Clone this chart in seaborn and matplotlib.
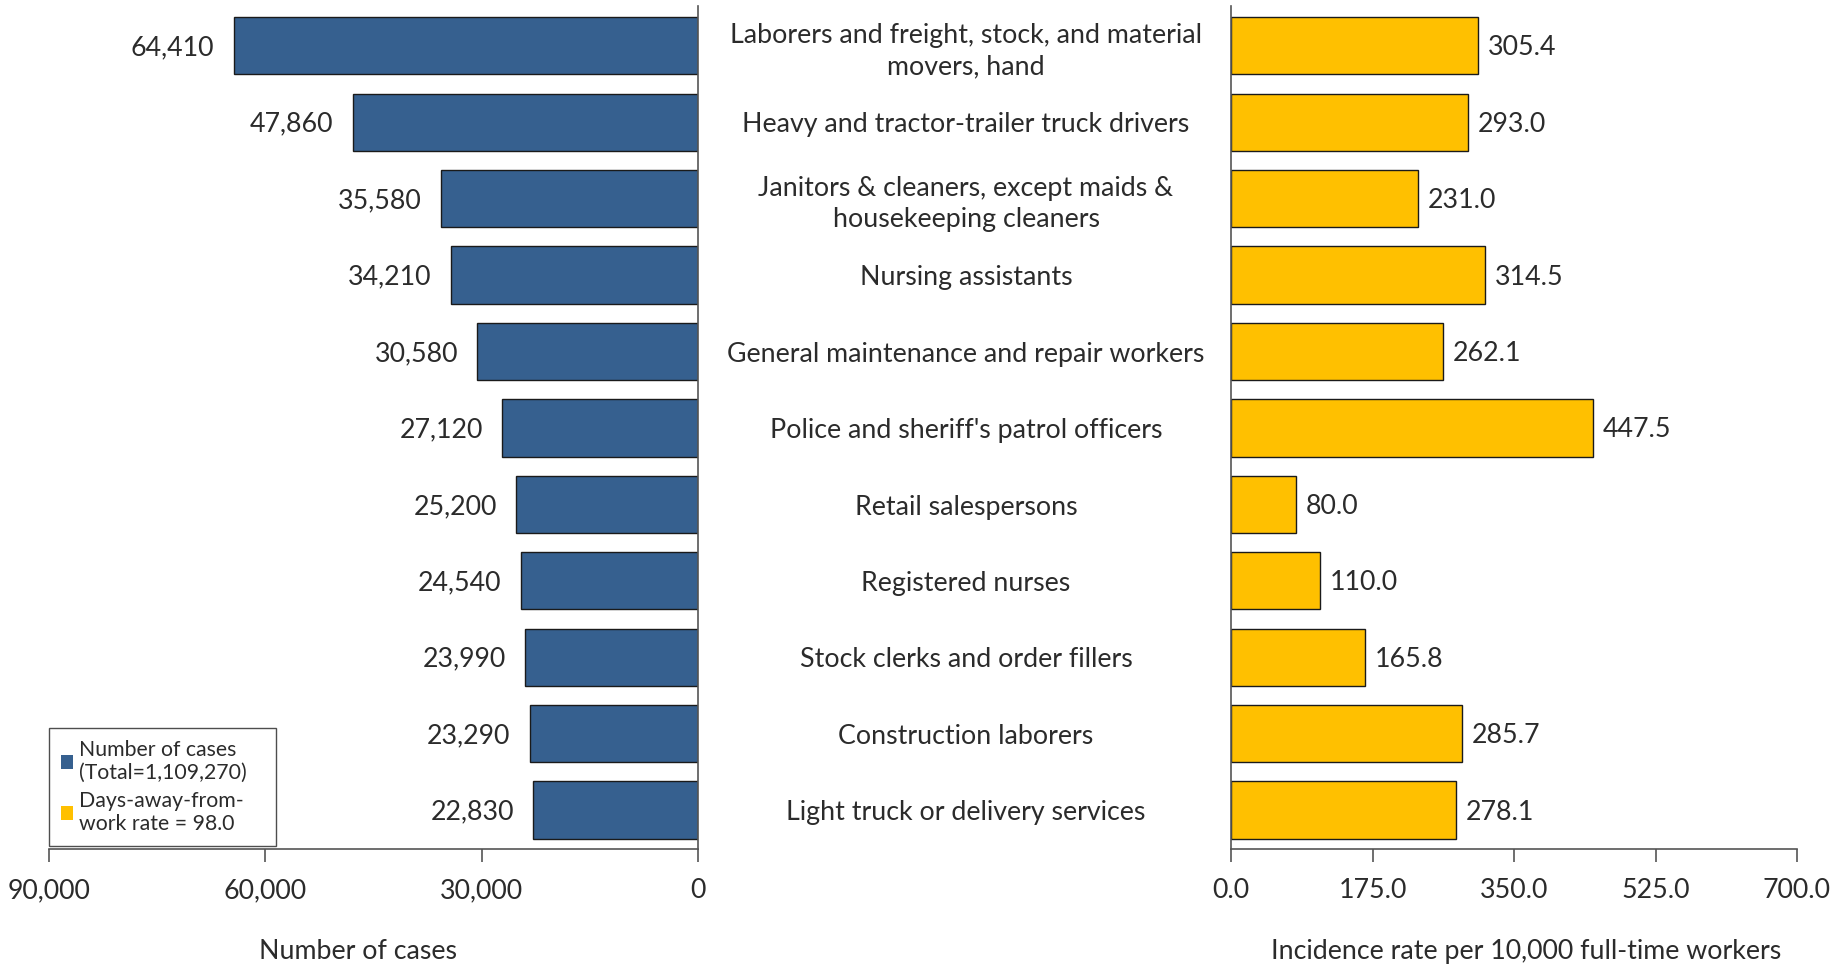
import matplotlib
matplotlib.use("Agg")
import matplotlib.pyplot as plt
import matplotlib.transforms as mtransforms
from matplotlib.patches import Patch
import seaborn as sns
import pandas as pd

occupations = [
    "Laborers and freight, stock, and material\nmovers, hand",
    "Heavy and tractor-trailer truck drivers",
    "Janitors & cleaners, except maids &\nhousekeeping cleaners",
    "Nursing assistants",
    "General maintenance and repair workers",
    "Police and sheriff's patrol officers",
    "Retail salespersons",
    "Registered nurses",
    "Stock clerks and order fillers",
    "Construction laborers",
    "Light truck or delivery services",
]
cases = [64410, 47860, 35580, 34210, 30580, 27120, 25200, 24540, 23990, 23290, 22830]
rates = [305.4, 293.0, 231.0, 314.5, 262.1, 447.5, 80.0, 110.0, 165.8, 285.7, 278.1]
case_ticks = [90000, 60000, 30000, 0]
rate_ticks = [0.0, 175.0, 350.0, 525.0, 700.0]
legend_labels = ["Number of cases\n(Total=1,109,270)", "Days-away-from-\nwork rate = 98.0"]
xlabel_left = "Number of cases"
xlabel_right = "Incidence rate per 10,000 full-time workers"

BLUE = "#36608F"
GOLD = "#FFC000"
TXT = "#2b2b2b"
FS = 19.3

sns.set_theme(style="white")
plt.rcParams["font.family"] = ["Lato", "DejaVu Sans"]

df = pd.DataFrame({"occ": occupations, "cases": cases, "rate": rates})

W, H = 1843, 965
fig = plt.figure(figsize=(W / 100, H / 100), dpi=100)

def fr(x0, y0, x1, y1):
    return [x0 / W, 1 - y1 / H, (x1 - x0) / W, (y1 - y0) / H]

axL = fig.add_axes(fr(49, 6, 698, 849))
axR = fig.add_axes(fr(1231, 6, 1797, 849))

sns.barplot(data=df, x="cases", y="occ", ax=axL, color=BLUE, orient="h",
            width=0.75, edgecolor="#1a1a1a", linewidth=1.0, saturation=1)
sns.barplot(data=df, x="rate", y="occ", ax=axR, color=GOLD, orient="h",
            width=0.75, edgecolor="#1a1a1a", linewidth=1.0, saturation=1)

n = len(occupations)
for ax in (axL, axR):
    ax.set_ylim(n - 0.49, -0.52)
    ax.set_ylabel("")
    ax.set_yticks([])
    ax.tick_params(axis="x", bottom=True, length=9, width=1.2, color="#555555",
                   labelsize=FS, labelcolor=TXT, pad=12, direction="out")
    for s in ax.spines.values():
        s.set_color("#555555")
        s.set_linewidth(1.2)

axL.set_xlim(90000, 0)
axL.set_xticks(case_ticks)
axL.set_xticklabels([f"{v:,}" for v in case_ticks])
axL.spines["left"].set_visible(False)
axL.spines["top"].set_visible(False)
axL.set_xlabel(xlabel_left, fontsize=FS, color=TXT, labelpad=26)
axL.xaxis.label.set_x(0.476)

axR.set_xlim(0, 700)
axR.set_xticks(rate_ticks)
axR.set_xticklabels([f"{v:.1f}" for v in rate_ticks])
axR.spines["right"].set_visible(False)
axR.spines["top"].set_visible(False)
axR.set_xlabel(xlabel_right, fontsize=FS, color=TXT, labelpad=26)
axR.xaxis.label.set_x(0.521)

for i, (c, r) in enumerate(zip(cases, rates)):
    axL.annotate(f"{c:,}", xy=(c, i), xytext=(-14, -1.5), textcoords="offset points",
                 ha="right", va="center", fontsize=FS, color=TXT)
    axR.annotate(f"{r:.1f}", xy=(r, i), xytext=(7, -1.5), textcoords="offset points",
                 ha="left", va="center", fontsize=FS, color=TXT)

trans = mtransforms.blended_transform_factory(fig.transFigure, axL.transData)
for i, occ in enumerate(occupations):
    t = fig.text(966 / W, i, occ, transform=trans, ha="center", va="center",
                 fontsize=FS, color=TXT, linespacing=1.3)
    off = -4 if "\n" in occ else -2
    t.set_transform(trans + mtransforms.ScaledTranslation(0, off / 72, fig.dpi_scale_trans))

handles = [Patch(facecolor=BLUE, edgecolor="none"), Patch(facecolor=GOLD, edgecolor="none")]
leg = axL.legend(handles, legend_labels, loc="lower left",
                 bbox_to_anchor=(0.0, 0.004, 0.35, 0.15), mode="expand",
                 frameon=True, fancybox=False, prop={"size": 15.3},
                 handlelength=0.6, handleheight=0.6, handletextpad=0.25,
                 borderpad=0.55, labelspacing=0.35, borderaxespad=0.0)
leg._legend_box.sep = 0
leg.get_frame().set_edgecolor("#222222")
leg.get_frame().set_linewidth(1.0)
for t in leg.get_texts():
    t.set_color(TXT)

fig.savefig("out.png", dpi=100)
